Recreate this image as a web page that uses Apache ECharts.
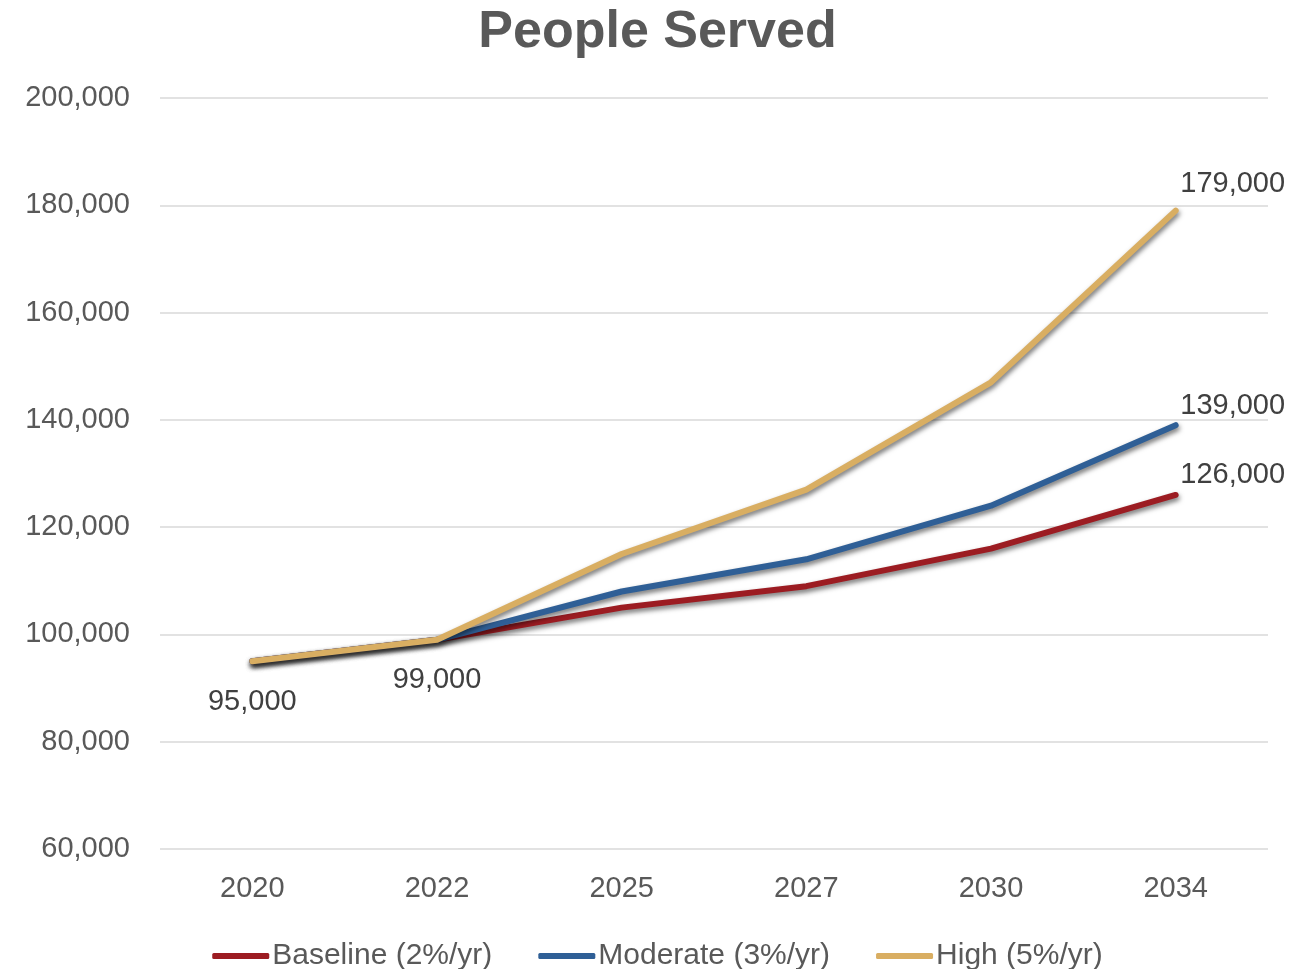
<!DOCTYPE html>
<html>
<head>
<meta charset="utf-8">
<script src="https://cdn.jsdelivr.net/npm/echarts@6/dist/echarts.min.js"></script>
<style>
  html, body { margin: 0; padding: 0; background: #fff; }
  #chart { width: 1315px; height: 969px; }
</style>
</head>
<body>
<div id="chart"></div>
<script>
// Projection years and people served under three growth scenarios
const years = ['2020', '2022', '2025', '2027', '2030', '2034'];
const baseline = [95000, 99000, 105000, 109000, 116000, 126000];
const moderate = [95000, 99000, 108000, 114000, 124000, 139000];
const high = [95000, 99000, 115000, 127000, 147000, 179000];
const seriesNames = ['Baseline (2%/yr)', 'Moderate (3%/yr)', 'High (5%/yr)'];
const colors = ['#9C1C22', '#2F5F96', '#D9AE62'];

const fmt = v => v.toLocaleString('en-US');
const labelColor = '#404040';
const axisColor = '#595959';
const font = '"Liberation Sans", Arial, sans-serif';

// Labels: start values under the first two points, final value beside the last point
function withLabels(values, showStart, endLift) {
  return values.map((v, i) => {
    const last = i === values.length - 1;
    if (last) {
      return { value: v, label: { show: true, position: 'top', distance: 5, offset: [57, -endLift] } };
    }
    if (showStart && i < 2) {
      return { value: v, label: { show: true, position: 'bottom', distance: 26 } };
    }
    return v;
  });
}

function lineSeries(name, values, color, showStart, endLift) {
  return {
    name: name,
    type: 'line',
    data: withLabels(values, showStart, endLift),
    symbol: 'circle',
    symbolSize: 0,
    showSymbol: true,
    smooth: false,
    lineStyle: {
      width: 6,
      color: color,
      cap: 'round',
      join: 'round',
      shadowColor: 'rgba(0,0,0,0.55)',
      shadowBlur: 5,
      shadowOffsetX: 1,
      shadowOffsetY: 3
    },
    itemStyle: { color: color },
    label: {
      show: false,
      formatter: p => fmt(p.value),
      color: labelColor,
      fontSize: 29,
      fontFamily: font
    },
    emphasis: { disabled: true }
  };
}

const chart = echarts.init(document.getElementById('chart'));
chart.setOption({
  animation: false,
  backgroundColor: '#ffffff',
  title: {
    text: 'People Served',
    left: 'center',
    top: 2,
    textStyle: {
      fontSize: 52,
      fontWeight: 'bold',
      color: '#595959',
      fontFamily: font
    }
  },
  legend: {
    top: 936,
    left: 'center',
    itemWidth: 57,
    itemHeight: 6,
    itemGap: 46,
    icon: 'roundRect',
    textStyle: {
      fontSize: 30,
      color: axisColor,
      fontFamily: font,
      padding: [0, 0, 0, -2]
    },
    data: seriesNames
  },
  grid: {
    left: 160,
    right: 47,
    top: 98,
    bottom: 120,
    containLabel: false
  },
  xAxis: {
    type: 'category',
    data: years,
    boundaryGap: true,
    axisLine: { show: false },
    axisTick: { show: false },
    axisLabel: {
      color: axisColor,
      fontSize: 29,
      fontFamily: font,
      margin: 25
    }
  },
  yAxis: {
    type: 'value',
    min: 60000,
    max: 200000,
    interval: 20000,
    axisLine: { show: false },
    axisTick: { show: false },
    splitLine: { lineStyle: { color: '#d9d9d9', width: 1.5 } },
    axisLabel: {
      color: axisColor,
      fontSize: 29,
      fontFamily: font,
      margin: 30,
      formatter: v => fmt(v)
    }
  },
  series: [
    lineSeries(seriesNames[0], baseline, colors[0], false, 0),
    lineSeries(seriesNames[1], moderate, colors[1], false, 0),
    lineSeries(seriesNames[2], high, colors[2], true, 7)
  ]
});
</script>
</body>
</html>
